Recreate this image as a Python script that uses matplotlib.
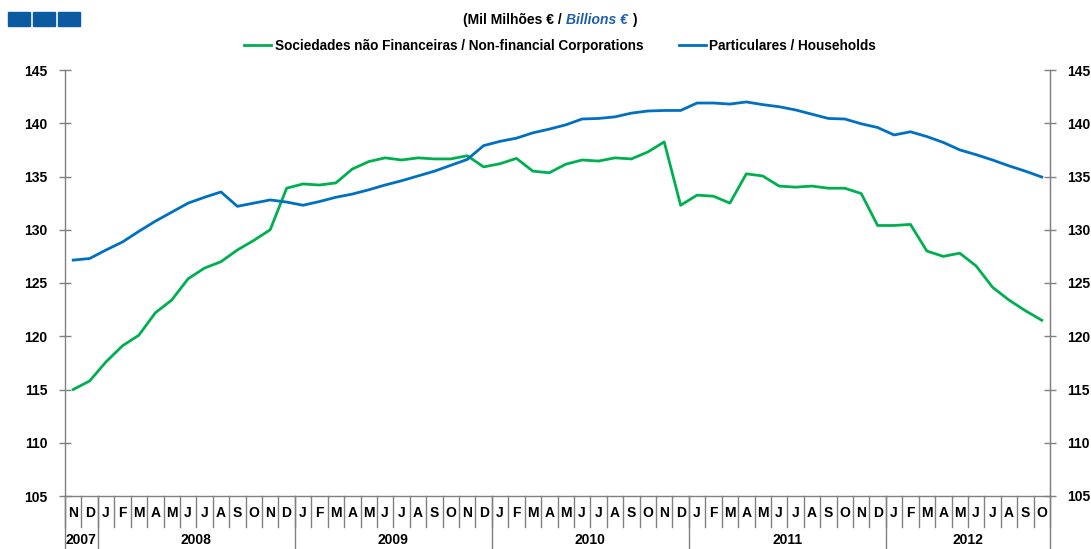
import matplotlib
matplotlib.use("Agg")
import matplotlib.pyplot as plt
import matplotlib.transforms as mtransforms
from matplotlib.patches import Rectangle
import numpy as np

plt.rcParams['font.family'] = ['Liberation Sans', 'DejaVu Sans']

months = ["N", "D"] + ["J", "F", "M", "A", "M", "J", "J", "A", "S", "O", "N", "D"] * 4 + \
         ["J", "F", "M", "A", "M", "J", "J", "A", "S", "O"]
years = ["2007", "2008", "2009", "2010", "2011", "2012"]
year_months = [2, 12, 12, 12, 12, 10]

corporations = [115.0, 115.8, 117.6, 119.1, 120.1, 122.2, 123.4, 125.4, 126.4, 127.0,
                128.1, 129.0, 130.0, 133.9, 134.3, 134.2, 134.4, 135.7, 136.4, 136.75,
                136.55, 136.75, 136.65, 136.65, 136.95, 135.9, 136.2, 136.7, 135.5, 135.35,
                136.15, 136.55, 136.45, 136.75, 136.65, 137.3, 138.25, 132.3, 133.25, 133.15,
                132.5, 135.25, 135.05, 134.1, 134.0, 134.1, 133.9, 133.9, 133.4, 130.4,
                130.4, 130.5, 128.0, 127.5, 127.8, 126.6, 124.6, 123.4, 122.4, 121.5]
households = [127.15, 127.3, 128.1, 128.85, 129.85, 130.8, 131.65, 132.5, 133.05, 133.55,
              132.2, 132.5, 132.8, 132.6, 132.3, 132.65, 133.05, 133.35, 133.75, 134.2,
              134.6, 135.05, 135.5, 136.05, 136.6, 137.9, 138.3, 138.6, 139.1, 139.45,
              139.85, 140.4, 140.45, 140.6, 140.95, 141.15, 141.2, 141.2, 141.9, 141.9,
              141.8, 142.0, 141.75, 141.55, 141.25, 140.85, 140.45, 140.4, 139.95, 139.6,
              138.9, 139.2, 138.75, 138.2, 137.5, 137.05, 136.55, 136.0, 135.5, 134.95]
yticks = [105, 110, 115, 120, 125, 130, 135, 140, 145]

label_corp = "Sociedades não Financeiras / Non-financial Corporations"
label_hh = "Particulares / Households"

GREEN = "#00B050"
BLUE = "#0070C0"
AXIS = "#808080"

W, H = 1091, 549
fig = plt.figure(figsize=(W / 100, H / 100), dpi=100)
ax = fig.add_axes([65 / W, 1 - 496 / H, (1050 - 65) / W, (496 - 70) / H])

x = np.arange(len(months))
l1, = ax.plot(x, corporations, color=GREEN, lw=2.0, label=label_corp)
l2, = ax.plot(x, households, color=BLUE, lw=2.0, label=label_hh)

ax.set_xlim(-0.5, len(months) - 0.5)
ax.set_ylim(105, 145)
ax.set_yticks(yticks)
ax.set_xticks([])
ax.spines["top"].set_visible(False)
for s in ["left", "right", "bottom"]:
    ax.spines[s].set_color(AXIS)
    ax.spines[s].set_linewidth(1.0)
ax.tick_params(axis='y', direction='inout', length=9, width=1, color=AXIS,
               labelsize=10, pad=8)
for t in ax.get_yticklabels():
    t.set_fontweight('bold')

ax2 = ax.twinx()
ax2.set_ylim(105, 145)
ax2.set_yticks(yticks)
for s in ["top", "left", "bottom"]:
    ax2.spines[s].set_visible(False)
ax2.spines["right"].set_color(AXIS)
ax2.tick_params(axis='y', direction='inout', length=9, width=1, color=AXIS,
                labelsize=10, pad=8)
for t in ax2.get_yticklabels():
    t.set_fontweight('bold')

trans = mtransforms.blended_transform_factory(ax.transData, ax.transAxes)
px = 1 / 426.0
# month separators and labels
for i in range(len(months) + 1):
    ax.plot([i - 0.5, i - 0.5], [0, -31 * px], transform=trans, color=AXIS,
            lw=1.0, clip_on=False)
for i, m in enumerate(months):
    ax.text(i, -17 * px, m, transform=trans, ha='center', va='center',
            fontsize=10, fontweight='bold')
# year separators and labels
start = 0
for yr, n in zip(years, year_months):
    ax.plot([start - 0.5, start - 0.5], [0, -53 * px], transform=trans,
            color=AXIS, lw=1.0, clip_on=False)
    ax.text(start - 0.5 + n / 2, -44 * px, yr, transform=trans, ha='center',
            va='center', fontsize=10, fontweight='bold')
    start += n
ax.plot([start - 0.5, start - 0.5], [0, -53 * px], transform=trans,
        color=AXIS, lw=1.0, clip_on=False)

# legend
fig.legend(handles=[l1, l2], loc='center', bbox_to_anchor=(560 / W, 1 - 46 / H),
           ncol=2, frameon=False, handlelength=2.0, handletextpad=0.25,
           columnspacing=2.6, prop={'size': 9.8, 'weight': 'bold'})

# subtitle
fig.text(566 / W, 1 - 20 / H, "(Mil Milhões € / ", ha='right', va='center',
         fontsize=10, fontweight='bold')
fig.text(566 / W, 1 - 20 / H, "Billions €", ha='left', va='center',
         fontsize=10, fontweight='bold', style='italic', color='#1F5FA8')
fig.text(632 / W, 1 - 20 / H, ")", ha='left', va='center', fontsize=10,
         fontweight='bold')

# top-left squares
for k in range(3):
    fig.patches.append(Rectangle(((8 + k * 25) / W, 1 - 26 / H), 22 / W, 14 / H,
                                 transform=fig.transFigure, color='#0B5AA2'))

fig.savefig("out.png", dpi=100)
